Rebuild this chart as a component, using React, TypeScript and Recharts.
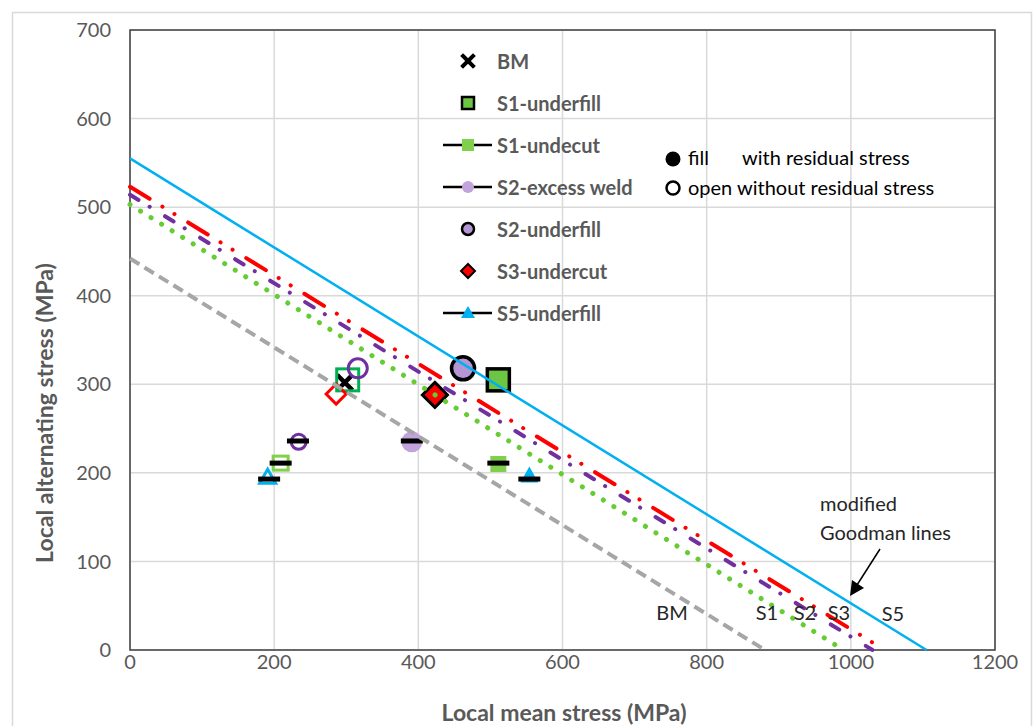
import React from 'react';
import { ComposedChart, Scatter, XAxis, YAxis, CartesianGrid, ReferenceArea } from 'recharts';

// axis ticks
const xTicks = [0, 200, 400, 600, 800, 1000, 1200];
const yTicks = [0, 100, 200, 300, 400, 500, 600, 700];

// modified Goodman lines: alternating stress at zero mean, mean stress at zero alternating
const goodmanNames = ['BM', 'S1', 'S2', 'S3', 'S5'];
const goodmanAlt = [442, 503, 514, 523, 555];
const goodmanMean = [881, 990, 1030, 1047, 1105];

// data points: index 0 = open (without residual stress), index 1 = filled (with residual stress)
const bmMean = [298];
const bmAlt = [302];
const s1UnderfillMean = [302, 511];
const s1UnderfillAlt = [305, 305];
const s1UndercutMean = [209, 511];
const s1UndercutAlt = [211, 210];
const s2ExcessMean = [234, 391];
const s2ExcessAlt = [235, 235];
const s2UnderfillMean = [316, 462];
const s2UnderfillAlt = [318, 318];
const s3UndercutMean = [286, 423];
const s3UndercutAlt = [289, 288];
const s5UnderfillMean = [191, 554];
const s5UnderfillAlt = [195, 197];
// black dash markers
const dashMean = [193, 209, 233, 391, 511, 554];
const dashAlt = [193, 211, 236, 236, 211, 193];

const legendNames = ['BM', 'S1-underfill', 'S1-undecut', 'S2-excess weld', 'S2-underfill', 'S3-undercut', 'S5-underfill'];

const toPts = (xs: number[], ys: number[]) => xs.map((x, i) => ({ x, y: ys[i], filled: i === 1 }));

const C = {
  cyan: '#00b0f0',
  red: '#ff0000',
  purple: '#7030a0',
  green: '#66cc33',
  gray: '#a6a6a6',
  darkGreen: '#00b050',
  lime: '#6cc644',
  lightGreen: '#7fd04b',
  lightPurple: '#c3a3db',
  midPurple: '#b496d4',
};

const goodmanStyles = [
  { stroke: C.gray, strokeWidth: 4, strokeDasharray: '11 6', strokeLinecap: 'butt' },
  { stroke: C.green, strokeWidth: 5, strokeDasharray: '0.1 12.3', strokeLinecap: 'round' },
  { stroke: C.purple, strokeWidth: 4, strokeDasharray: '10 13 0.1 18', strokeLinecap: 'round' },
  { stroke: C.red, strokeWidth: 4, strokeDasharray: '23 15 0.1 14 0.1 16', strokeLinecap: 'round' },
  { stroke: C.cyan, strokeWidth: 2.5, strokeDasharray: undefined, strokeLinecap: 'butt' },
];

const Empty = () => <g />;

function drawMark(kind: string, cx: number, cy: number, filled: boolean) {
  switch (kind) {
    case 'x':
      return (
        <g stroke="#000" strokeWidth={4.5} strokeLinecap="square">
          <line x1={cx - 6} y1={cy - 6} x2={cx + 6} y2={cy + 6} />
          <line x1={cx - 6} y1={cy + 6} x2={cx + 6} y2={cy - 6} />
        </g>
      );
    case 'sqDark':
      return filled ? (
        <rect x={cx - 11} y={cy - 11} width={22} height={22} fill={C.lime} stroke="#000" strokeWidth={3.5} />
      ) : (
        <rect x={cx - 11} y={cy - 11} width={22} height={22} fill="none" stroke={C.darkGreen} strokeWidth={3} />
      );
    case 'sqLight':
      return filled ? (
        <rect x={cx - 8} y={cy - 8} width={16} height={16} fill={C.lightGreen} />
      ) : (
        <rect x={cx - 7.5} y={cy - 7} width={15} height={14} fill="none" stroke={C.lightGreen} strokeWidth={3} />
      );
    case 'circLight':
      return filled ? (
        <circle cx={cx} cy={cy} r={10.5} fill={C.lightPurple} />
      ) : (
        <circle cx={cx} cy={cy} r={7.5} fill="none" stroke={C.purple} strokeWidth={3} />
      );
    case 'circDark':
      return filled ? (
        <circle cx={cx} cy={cy} r={11.5} fill={C.midPurple} stroke="#000" strokeWidth={3.5} />
      ) : (
        <circle cx={cx} cy={cy} r={9.5} fill="none" stroke={C.purple} strokeWidth={3} />
      );
    case 'diamond': {
      const h = filled ? 12.5 : 10;
      return (
        <polygon
          points={`${cx},${cy - h} ${cx + h},${cy} ${cx},${cy + h} ${cx - h},${cy}`}
          fill={filled ? C.red : 'none'}
          stroke={filled ? '#000' : C.red}
          strokeWidth={3}
        />
      );
    }
    case 'tri':
      return filled ? (
        <polygon points={`${cx},${cy - 9} ${cx + 9},${cy + 7} ${cx - 9},${cy + 7}`} fill={C.cyan} />
      ) : (
        <polygon points={`${cx},${cy - 8} ${cx + 8},${cy + 6} ${cx - 8},${cy + 6}`} fill="#fff" stroke={C.cyan} strokeWidth={3} />
      );
    case 'dash':
      return <rect x={cx - 11} y={cy - 2.5} width={22} height={5} fill="#000" />;
    default:
      return <g />;
  }
}

const shapeOf = (kind: string) => (props: any) => {
  const { cx, cy, payload } = props;
  if (cx == null || cy == null) return <g />;
  return drawMark(kind, cx, cy, !!(payload && payload.filled));
};

const markerSeries = [
  { name: 'BM', kind: 'x', data: toPts(bmMean, bmAlt) },
  { name: 'S1-underfill', kind: 'sqDark', data: toPts(s1UnderfillMean, s1UnderfillAlt) },
  { name: 'S1-undecut', kind: 'sqLight', data: toPts(s1UndercutMean, s1UndercutAlt) },
  { name: 'S2-excess weld', kind: 'circLight', data: toPts(s2ExcessMean, s2ExcessAlt) },
  { name: 'S2-underfill', kind: 'circDark', data: toPts(s2UnderfillMean, s2UnderfillAlt) },
  { name: 'S3-undercut', kind: 'diamond', data: toPts(s3UndercutMean, s3UndercutAlt) },
  { name: 'S5-underfill', kind: 'tri', data: toPts(s5UnderfillMean, s5UnderfillAlt) },
];
const dashData = dashMean.map((x, i) => ({ x, y: dashAlt[i], filled: false }));

function LegendIcon({ i, cx, cy }: { i: number; cx: number; cy: number }) {
  const line = <line x1={cx - 25} y1={cy} x2={cx + 24} y2={cy} stroke="#000" strokeWidth={2.5} />;
  switch (i) {
    case 0:
      return (
        <g stroke="#000" strokeWidth={4} strokeLinecap="square">
          <line x1={cx - 5} y1={cy - 5} x2={cx + 5} y2={cy + 5} />
          <line x1={cx - 5} y1={cy + 5} x2={cx + 5} y2={cy - 5} />
        </g>
      );
    case 1:
      return <rect x={cx - 6} y={cy - 6} width={12} height={12} fill={C.lime} stroke="#000" strokeWidth={2.5} />;
    case 2:
      return (
        <g>
          {line}
          <rect x={cx - 6} y={cy - 6} width={12} height={12} fill={C.lightGreen} />
        </g>
      );
    case 3:
      return (
        <g>
          {line}
          <circle cx={cx} cy={cy} r={6} fill={C.lightPurple} />
        </g>
      );
    case 4:
      return <circle cx={cx} cy={cy} r={6} fill={C.midPurple} stroke="#000" strokeWidth={2.5} />;
    case 5:
      return (
        <polygon
          points={`${cx},${cy - 7} ${cx + 7},${cy} ${cx},${cy + 7} ${cx - 7},${cy}`}
          fill={C.red}
          stroke="#000"
          strokeWidth={2}
        />
      );
    case 6:
      return (
        <g>
          {line}
          <polygon points={`${cx},${cy - 7} ${cx + 7},${cy + 5} ${cx - 7},${cy + 5}`} fill={C.cyan} />
        </g>
      );
    default:
      return null;
  }
}

const annotX = [672, 767, 805, 839, 893];
const annotY = [612, 612, 612, 612, 613];

export default function App() {
  const font = 'Lato, "Open Sans", sans-serif';
  return (
    <div style={{ position: 'absolute', left: 0, top: 0, width: 1035, height: 726, background: '#fff', fontFamily: font }}>
      <ComposedChart width={1035} height={726} margin={{ top: 30, right: 40, bottom: 0, left: 0 }}>
        <CartesianGrid stroke="#d9d9d9" strokeWidth={1.5} />
        <XAxis
          type="number"
          dataKey="x"
          domain={[0, 1200]}
          ticks={xTicks}
          height={76}
          tickLine={false}
          axisLine={false}
          tickSize={0}
          tickMargin={5}
          tick={{ fill: '#595959', fontSize: 20, fontFamily: font }}
          interval={0}
        />
        <YAxis
          type="number"
          dataKey="y"
          domain={[0, 700]}
          ticks={yTicks}
          width={130}
          tickLine={false}
          axisLine={false}
          tickSize={0}
          tickMargin={19}
          tick={{ fill: '#595959', fontSize: 20, fontFamily: font }}
          interval={0}
        />
        {markerSeries.map((s) => (
          <Scatter key={s.name} name={s.name} data={s.data} shape={shapeOf(s.kind)} isAnimationActive={false} />
        ))}
        <Scatter name="dash" data={dashData} shape={shapeOf('dash')} isAnimationActive={false} />
        {goodmanNames.map((n, i) => (
          <Scatter
            key={'g' + n}
            name={'Goodman ' + n}
            data={[
              { x: 0, y: goodmanAlt[i] },
              { x: goodmanMean[i], y: 0 },
            ]}
            line={goodmanStyles[i] as any}
            lineType="joint"
            shape={Empty}
            isAnimationActive={false}
          />
        ))}
        <ReferenceArea x1={0} x2={1200} y1={0} y2={700} fill="none" fillOpacity={0} stroke="#404040" strokeWidth={1.5} ifOverflow="visible" />
      </ComposedChart>
      <svg width={1035} height={726} style={{ position: 'absolute', left: 0, top: 0, pointerEvents: 'none' }}>
        <rect x={12.5} y={12.5} width={1019} height={740} fill="none" stroke="#d9d9d9" strokeWidth={1.5} />
        {legendNames.map((n, i) => {
          const cy = 61 + 42 * i;
          return (
            <g key={n}>
              <LegendIcon i={i} cx={468} cy={cy} />
              <text x={497} y={cy} dominantBaseline="central" fontSize={20} fontWeight="bold" fill="#595959" fontFamily={font}>
                {n}
              </text>
            </g>
          );
        })}
        <circle cx={673} cy={159} r={7.5} fill="#000" />
        <text x={688} y={157} dominantBaseline="central" fontSize={20} fill="#000" fontFamily={font}>fill</text>
        <text x={742} y={157} dominantBaseline="central" fontSize={20} fill="#000" fontFamily={font}>with residual stress</text>
        <circle cx={673} cy={188} r={6.5} fill="none" stroke="#000" strokeWidth={2.5} />
        <text x={688} y={187} dominantBaseline="central" fontSize={20} fill="#000" fontFamily={font}>open without residual stress</text>
        {goodmanNames.map((n, i) => (
          <text key={'a' + n} x={annotX[i]} y={annotY[i]} textAnchor="middle" dominantBaseline="central" fontSize={20} fill="#262626" fontFamily={font}>
            {n}
          </text>
        ))}
        <text x={820} y={503} dominantBaseline="central" fontSize={20} fill="#262626" fontFamily={font}>modified</text>
        <text x={820} y={532} dominantBaseline="central" fontSize={20} fill="#262626" fontFamily={font}>Goodman lines</text>
        <line x1={880} y1={549} x2={857} y2={585} stroke="#000" strokeWidth={1.5} />
        <polygon points="850,596 852,580 864,588" fill="#000" />
        <text x={564} y={712} textAnchor="middle" dominantBaseline="central" fontSize={23} fontWeight="bold" fill="#595959" fontFamily={font}>
          Local mean stress (MPa)
        </text>
        <text
          x={44}
          y={413}
          textAnchor="middle"
          dominantBaseline="central"
          fontSize={23}
          fontWeight="bold"
          fill="#595959"
          fontFamily={font}
          transform="rotate(-90 44 413)"
        >
          Local alternating stress (MPa)
        </text>
      </svg>
    </div>
  );
}
